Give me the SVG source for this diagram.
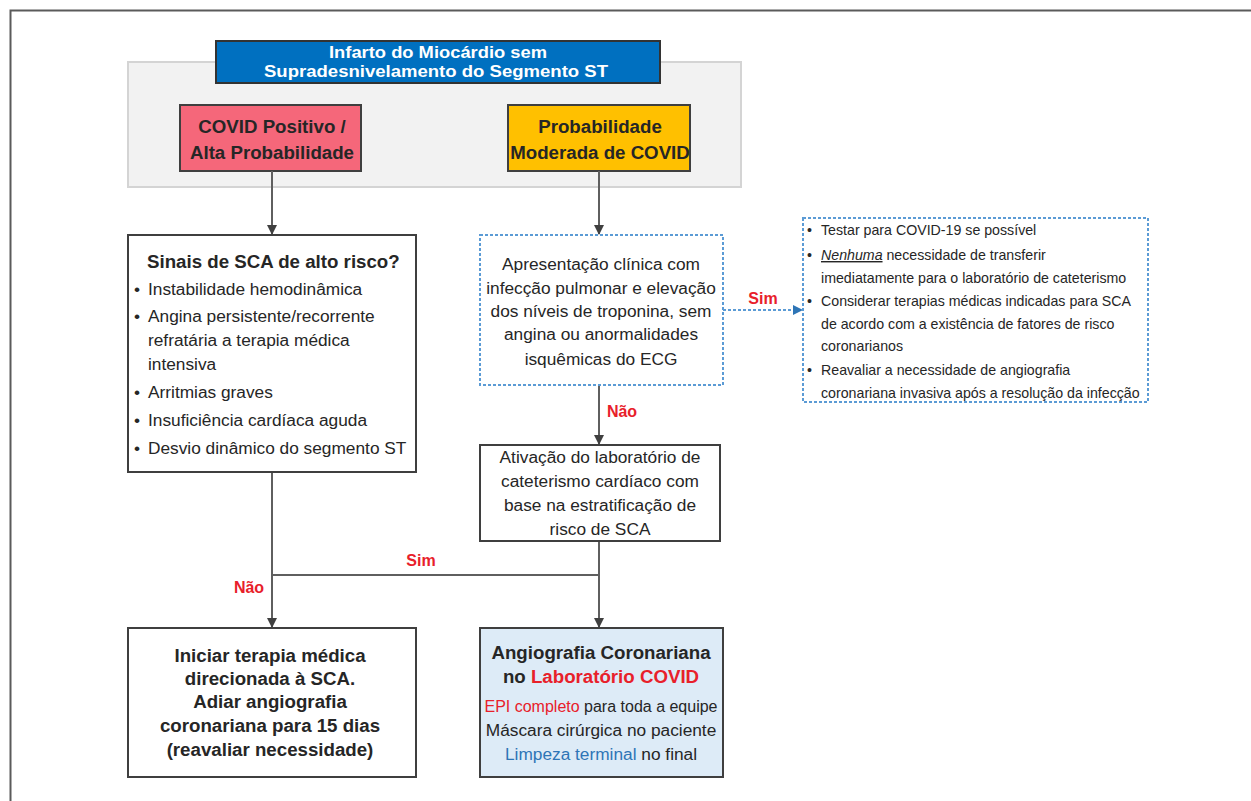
<svg xmlns="http://www.w3.org/2000/svg" width="1251" height="801" viewBox="0 0 1251 801">
  <style>
    text { font-family: "Liberation Sans", Arial, sans-serif; fill: #262626; }
    .t16 { font-size: 17.3px; }
    .t13 { font-size: 14.2px; }
    .hb { font-weight: bold; font-size: 18.7px; }
    .b { font-weight: bold; }
    .mid { text-anchor: middle; }
    .red { fill: #e8202a; }
    .blue { fill: #2e75b6; }
    .box { fill: #ffffff; stroke: #3f3f3f; stroke-width: 2; }
    .dash { fill: #ffffff; stroke: #5b9bd5; stroke-width: 2; stroke-dasharray: 3 2; }
    .wire { fill: none; stroke: #5f5f5f; stroke-width: 2; }
    .wire-dash { fill: none; stroke: #5b9bd5; stroke-width: 2; stroke-dasharray: 3 2; }
  </style>
  <defs>
    <marker id="arrow" viewBox="0 0 10 10" refX="9" refY="5" markerWidth="5" markerHeight="5" orient="auto">
      <path d="M0,0 L10,5 L0,10 z" fill="#404040"/>
    </marker>
    <marker id="arrow-blue" viewBox="0 0 10 10" refX="9" refY="5" markerWidth="5" markerHeight="5" orient="auto">
      <path d="M0,0 L10,5 L0,10 z" fill="#2e75b6"/>
    </marker>
  </defs>

  <rect width="1251" height="801" fill="#ffffff"/>
  <!-- page frame -->
  <path d="M10.5,801 V10.5 H1251" fill="none" stroke="#5a5a5a" stroke-width="2"/>

  <!-- shaded header band -->
  <rect x="128" y="62" width="613" height="125" fill="#f2f2f2" stroke="#d4d4d4" stroke-width="2"/>

  <g id="title">
    <rect x="216" y="41" width="444" height="42" fill="#0070c0" stroke="#333333" stroke-width="2"/>
    <text class="b mid" x="438" y="58" style="fill:#ffffff;font-size:16.5px" textLength="218" lengthAdjust="spacingAndGlyphs">Infarto do Miocárdio sem</text>
    <text class="b mid" x="436" y="77" style="fill:#ffffff;font-size:16.5px" textLength="344" lengthAdjust="spacingAndGlyphs">Supradesnivelamento do Segmento ST</text>
  </g>

  <g id="covid-positive">
    <rect x="180" y="105" width="181" height="66" fill="#f5677a" stroke="#3f3f3f" stroke-width="2"/>
    <text class="hb mid" x="272" y="133">COVID Positivo /</text>
    <text class="hb mid" x="272" y="159">Alta Probabilidade</text>
  </g>

  <g id="covid-moderate">
    <rect x="508" y="105" width="182" height="66" fill="#ffc000" stroke="#3f3f3f" stroke-width="2"/>
    <text class="hb mid" x="600" y="133">Probabilidade</text>
    <text class="hb mid" x="600" y="159">Moderada de COVID</text>
  </g>

  <g id="connectors">
    <path class="wire" d="M272,171 V234" marker-end="url(#arrow)"/>
    <path class="wire" d="M599,171 V234" marker-end="url(#arrow)"/>
    <path class="wire-dash" d="M723,310 H802" marker-end="url(#arrow-blue)"/>
    <path class="wire" d="M599,385 V444" marker-end="url(#arrow)"/>
    <path class="wire" d="M272,472 V627" marker-end="url(#arrow)"/>
    <path class="wire" d="M599,541 V627" marker-end="url(#arrow)"/>
    <path class="wire" d="M272,575 H599"/>
    <text class="b red" x="763" y="304" style="font-size:16px" text-anchor="middle">Sim</text>
    <text class="b red" x="622" y="417" style="font-size:16px" text-anchor="middle">Não</text>
    <text class="b red" x="421" y="566" style="font-size:16px" text-anchor="middle">Sim</text>
    <text class="b red" x="249" y="593" style="font-size:16px" text-anchor="middle">Não</text>
  </g>

  <g id="high-risk">
    <rect class="box" x="128" y="235" width="288" height="237"/>
    <text class="hb" x="147" y="268">Sinais de SCA de alto risco?</text>
    <g class="t16">
      <text x="134" y="295">•</text><text x="148" y="295">Instabilidade hemodinâmica</text>
      <text x="134" y="322">•</text><text x="148" y="322">Angina persistente/recorrente</text>
      <text x="148" y="346">refratária a terapia médica</text>
      <text x="148" y="370">intensiva</text>
      <text x="134" y="398">•</text><text x="148" y="398">Arritmias graves</text>
      <text x="134" y="426">•</text><text x="148" y="426">Insuficiência cardíaca aguda</text>
      <text x="134" y="454">•</text><text x="148" y="454">Desvio dinâmico do segmento ST</text>
    </g>
  </g>

  <g id="clinical">
    <rect class="dash" x="480" y="235" width="243" height="150"/>
    <g class="t16 mid">
      <text x="601" y="270">Apresentação clínica com</text>
      <text x="601" y="294">infecção pulmonar e elevação</text>
      <text x="601" y="317">dos níveis de troponina, sem</text>
      <text x="601" y="340">angina ou anormalidades</text>
      <text x="601" y="365">isquêmicas do ECG</text>
    </g>
  </g>

  <g id="advice">
    <rect class="dash" x="803" y="218" width="345" height="184"/>
    <g class="t13">
      <text x="807" y="235">•</text><text x="821" y="235">Testar para COVID-19 se possível</text>
      <text x="807" y="260">•</text><text x="821" y="260"><tspan font-style="italic" text-decoration="underline">Nenhuma</tspan> necessidade de transferir</text>
      <text x="821" y="283">imediatamente para o laboratório de cateterismo</text>
      <text x="807" y="306">•</text><text x="821" y="306">Considerar terapias médicas indicadas para SCA</text>
      <text x="821" y="329">de acordo com a existência de fatores de risco</text>
      <text x="821" y="351">coronarianos</text>
      <text x="807" y="375">•</text><text x="821" y="375">Reavaliar a necessidade de  angiografia</text>
      <text x="821" y="398">coronariana invasiva após a resolução da infecção</text>
    </g>
  </g>

  <g id="cath-lab">
    <rect class="box" x="480" y="445" width="240" height="96"/>
    <g class="t16 mid">
      <text x="600" y="463">Ativação do laboratório de</text>
      <text x="600" y="487">cateterismo cardíaco com</text>
      <text x="600" y="511">base na estratificação de</text>
      <text x="600" y="535">risco de SCA</text>
    </g>
  </g>

  <g id="medical-therapy">
    <rect class="box" x="128" y="628" width="288" height="149"/>
    <g class="hb mid">
      <text x="270" y="662">Iniciar terapia médica</text>
      <text x="270" y="685">direcionada à SCA.</text>
      <text x="270" y="708">Adiar angiografia</text>
      <text x="270" y="732">coronariana para 15 dias</text>
      <text x="270" y="756">(reavaliar necessidade)</text>
    </g>
  </g>

  <g id="angiography">
    <rect x="480" y="628" width="243" height="149" fill="#ddebf7" stroke="#3f3f3f" stroke-width="2"/>
    <text class="hb mid" x="601" y="659">Angiografia Coronariana</text>
    <text class="hb mid" x="601" y="683">no <tspan class="red">Laboratório COVID</tspan></text>
    <g class="t16 mid">
      <text x="601" y="712" style="font-size:16px"><tspan class="red">EPI completo</tspan> para toda a equipe</text>
      <text x="601" y="736">Máscara cirúrgica no paciente</text>
      <text x="601" y="760"><tspan class="blue">Limpeza terminal</tspan> no final</text>
    </g>
  </g>
</svg>
